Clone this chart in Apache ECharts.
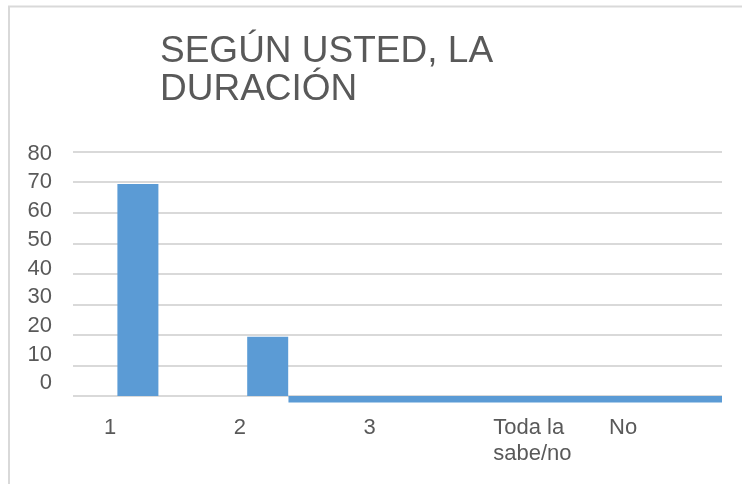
<!DOCTYPE html>
<html>
<head>
<meta charset="utf-8">
<title>Duración</title>
<script src="https://cdn.jsdelivr.net/npm/echarts@6/dist/echarts.min.js"></script>
<style>
  html, body { margin: 0; padding: 0; background: #fff; }
  #chart { width: 742px; height: 484px; }
</style>
</head>
<body>
<div id="chart"></div>
<script>
// datos
var categorias = ['1', '2', '3', 'Toda la\nsabe/no', 'No'];
var valores = [69.4, 19.4, 0, 0, 0];
// franja plana bajo el cero: [inicio, fin, valor] en unidades de categoria
var franja = [[1.66, 5, -2.1]];
var yTicks = [0, 10, 20, 30, 40, 50, 60, 70, 80];

var gris = '#595959';
var azul = '#5b9bd5';
var fuente = '"Liberation Sans", Arial, sans-serif';

var chart = echarts.init(document.getElementById('chart'));

// la ultima etiqueta va centrada, las demas alineadas a la izquierda
var etiquetas = categorias.map(function (c, i) {
    if (i === categorias.length - 1) {
        return { value: c, textStyle: { align: 'center' } };
    }
    return c;
});

var option = {
    backgroundColor: '#fff',
    animation: false,
    title: {
        text: 'SEGÚN USTED, LA\nDURACIÓN',
        left: 160,
        top: 33,
        padding: 0,
        textStyle: {
            color: gris,
            fontSize: 37,
            fontWeight: 'normal',
            fontFamily: fuente,
            lineHeight: 38
        }
    },
    graphic: [{
        type: 'rect',
        shape: { x: 9, y: 6.5, width: 800, height: 600 },
        style: { fill: null, stroke: '#d9d9d9', lineWidth: 2 },
        silent: true
    }],
    grid: [
        { left: 73, right: 20, top: 151.7, bottom: 88 },
        // rejilla oculta solo para colocar las etiquetas de categoria
        { left: 39, right: 54, top: 151.7, bottom: 88 }
    ],
    xAxis: [{
        type: 'category',
        gridIndex: 0,
        data: categorias,
        axisLine: { show: false },
        axisTick: { show: false },
        axisLabel: { show: false },
        splitLine: { show: false }
    }, {
        type: 'value',
        gridIndex: 0,
        min: 0,
        max: 5,
        show: false
    }, {
        type: 'category',
        gridIndex: 1,
        data: etiquetas,
        axisLine: { show: false },
        axisTick: { show: false },
        splitLine: { show: false },
        axisLabel: {
            interval: 0,
            align: 'left',
            verticalAlign: 'top',
            margin: 19,
            color: gris,
            fontSize: 22,
            lineHeight: 26,
            fontFamily: fuente
        }
    }],
    yAxis: [{
        type: 'value',
        gridIndex: 0,
        min: 0,
        max: 80,
        interval: 10,
        axisLine: { show: false },
        axisTick: { show: false },
        axisLabel: { show: false },
        splitLine: { lineStyle: { color: '#d9d9d9', width: 2 } }
    }, {
        // eje solo de etiquetas, algo desplazado respecto a la rejilla
        type: 'value',
        gridIndex: 0,
        position: 'left',
        min: -4.4,
        max: 80.7,
        axisLine: { show: false },
        axisTick: { show: false },
        splitLine: { show: false },
        axisLabel: {
            customValues: yTicks,
            margin: 21,
            color: gris,
            fontSize: 22,
            fontFamily: fuente
        }
    }, {
        type: 'value',
        gridIndex: 1,
        show: false
    }],
    series: [{
        type: 'bar',
        xAxisIndex: 0,
        yAxisIndex: 0,
        data: valores,
        barWidth: 41,
        itemStyle: { color: azul },
        z: 3
    }, {
        type: 'custom',
        xAxisIndex: 1,
        yAxisIndex: 0,
        data: franja,
        encode: { x: [0, 1], y: 2 },
        clip: false,
        renderItem: function (params, api) {
            var p0 = api.coord([api.value(0), 0]);
            var p1 = api.coord([api.value(1), api.value(2)]);
            return {
                type: 'rect',
                shape: {
                    x: p0[0],
                    y: Math.min(p0[1], p1[1]),
                    width: p1[0] - p0[0],
                    height: Math.abs(p1[1] - p0[1])
                },
                style: { fill: azul },
                z2: 3
            };
        },
        z: 3
    }]
};

chart.setOption(option);
</script>
</body>
</html>
